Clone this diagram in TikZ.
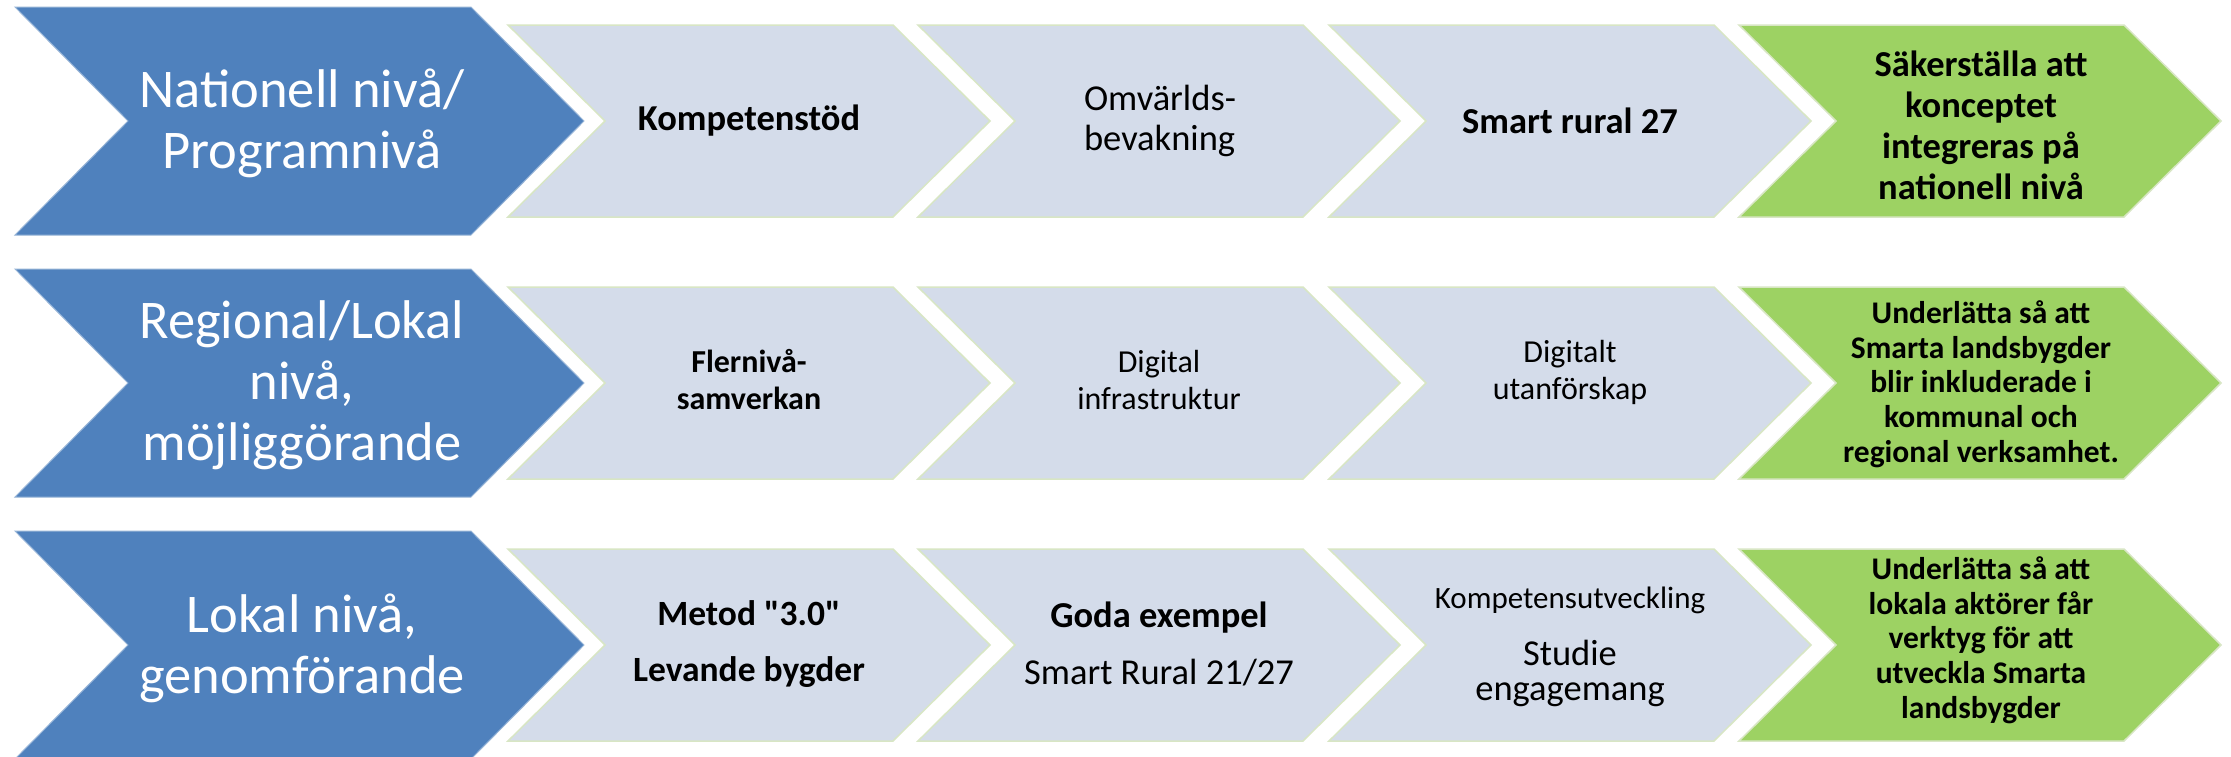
\documentclass[tikz,border=0pt]{standalone}
\usepackage{fontspec}
\setmainfont{Carlito}
\newfontfamily\plainq{Carlito}
\definecolor{blueA}{RGB}{79,129,189}
\definecolor{grayA}{RGB}{212,220,234}
\definecolor{greenA}{RGB}{157,210,99}
\definecolor{edgeG}{RGB}{216,230,196}
\definecolor{edgeB}{RGB}{150,180,215}
\newcommand\chevron[6]{\path[#1] (#2,#3) -- ++(#4-#6,0) -- ++(#6,#5/2) -- ++(-#6,#5/2) -- ++(-#4+#6,0) -- ++(#6,-#5/2) -- cycle;}
\tikzset{
  bluebox/.style={fill=blueA,draw=edgeB,line width=1pt},
  graybox/.style={fill=grayA,draw=edgeG,line width=1.5pt},
  greenbox/.style={fill=greenA,draw=edgeG,line width=1.5pt},
  lvl/.style={text=white,align=center,inner sep=0pt,font=\fontsize{54.5}{61}\selectfont},
  gb/.style={align=center,inner sep=0pt,font=\fontsize{36.5}{40}\selectfont\bfseries},
  gr/.style={align=center,inner sep=0pt,font=\fontsize{36.5}{40}\selectfont},
  gbs/.style={align=center,inner sep=0pt,font=\fontsize{32}{37}\selectfont\bfseries},
  grs/.style={align=center,inner sep=0pt,font=\fontsize{32}{37}\selectfont},
  goalA/.style={align=center,inner sep=0pt,font=\fontsize{36.5}{41}\selectfont\bfseries},
  goalB/.style={align=center,inner sep=0pt,font=\fontsize{31.5}{34.7}\selectfont\bfseries},
}
\begin{document}
\begin{tikzpicture}[x=1pt,y=-1pt]
\useasboundingbox (0,0) rectangle (2231,756);
\fill[white] (0,0) rectangle (2231,756);
% chevrons
\foreach \t in {7,269,531} {\chevron{bluebox}{15}{\t}{569}{228}{113}}
\foreach \t in {25,287,549} {
  \foreach \l in {508,918,1329} {\chevron{graybox}{\l}{\t}{482}{192}{97}}
  \chevron{greenbox}{1739}{\t}{482}{192}{97}
}
% row 1
\node[lvl] (l1) at (302,123) {Nationell nivå/\\Programnivå};
\node[gb] (a1) at (749,121) {Kompetenstöd};
\node[gr,align=left] (b1) at (1160,121) {Omvärlds-\\bevakning};
\node[gb] (c1) at (1570,121) {Smart rural 27};
\node[goalA] (d1) at (1981,125) {Säkerställa att\\konceptet\\integreras på\\nationell nivå};
% row 2
\node[lvl] (l2) at (302,385) {Regional/Lokal\\nivå,\\möjliggörande};
\node[gbs] (a2) at (749,380) {Flernivå-\\samverkan};
\node[grs] (b2) at (1159,380) {Digital\\infrastruktur};
\node[grs] (c2) at (1570,372) {Digitalt\\utanförskap};
\node[goalB] (d2) at (1981,384) {Underlätta så att\\Smarta landsbygder\\blir inkluderade i\\kommunal och\\regional verksamhet.};
% row 3
\node[lvl] (l3) at (302,648) {Lokal nivå,\\genomförande};
\node[gb,font=\fontsize{35.5}{40}\selectfont\bfseries] (a3) at (749,644) {Metod {\plainq"}3.0{\plainq"}\\[16pt]Levande bygder};
\node[gr,anchor=base] (b3t) at (1159,627) {\bfseries Goda exempel};
\node[gr,anchor=base] (b3b) at (1159,684) {Smart Rural 21/27};
\node[grs,anchor=base,font=\fontsize{31}{34}\selectfont] (c3t) at (1570,608) {Kompetensutveckling};
\node[gr,anchor=base] (c3m) at (1570,665) {Studie};
\node[gr,anchor=base] (c3b) at (1570,700) {engagemang};
\node[goalB] (d3) at (1981,640) {Underlätta så att\\lokala aktörer får\\verktyg för att\\utveckla Smarta\\landsbygder};
\end{tikzpicture}
\end{document}
